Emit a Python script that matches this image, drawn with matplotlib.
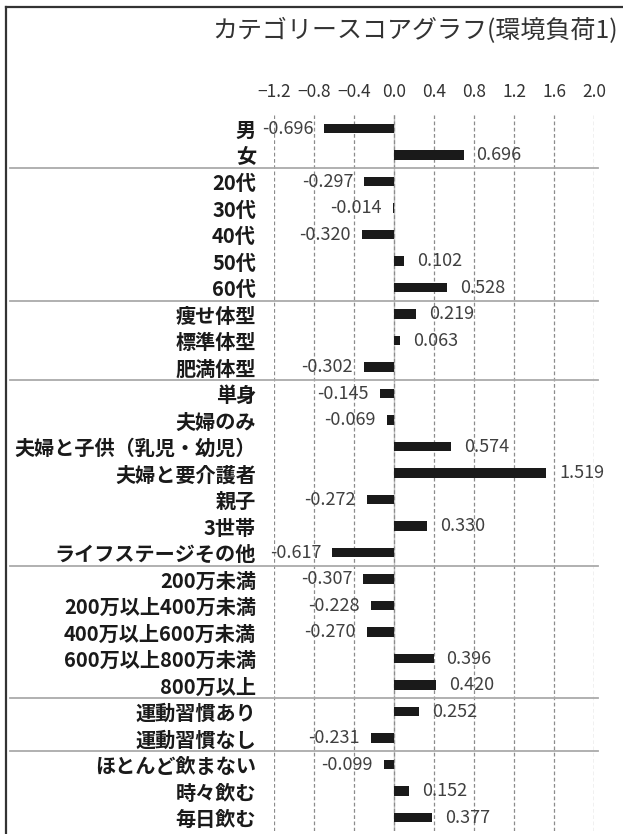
import matplotlib
matplotlib.use("Agg")
import matplotlib.pyplot as plt
import matplotlib.transforms as mtransforms
from matplotlib.lines import Line2D

plt.rcParams['font.family'] = ['Noto Sans CJK JP', 'DejaVu Sans']
plt.rcParams['axes.unicode_minus'] = True

# データ
categories = [
    "男", "女",
    "20代", "30代", "40代", "50代", "60代",
    "痩せ体型", "標準体型", "肥満体型",
    "単身", "夫婦のみ", "夫婦と子供（乳児・幼児）", "夫婦と要介護者", "親子", "3世帯", "ライフステージその他",
    "200万未満", "200万以上400万未満", "400万以上600万未満", "600万以上800万未満", "800万以上",
    "運動習慣あり", "運動習慣なし",
    "ほとんど飲まない", "時々飲む", "毎日飲む",
]
scores = [
    -0.696, 0.696,
    -0.297, -0.014, -0.320, 0.102, 0.528,
    0.219, 0.063, -0.302,
    -0.145, -0.069, 0.574, 1.519, -0.272, 0.330, -0.617,
    -0.307, -0.228, -0.270, 0.396, 0.420,
    0.252, -0.231,
    -0.099, 0.152, 0.377,
]
group_sizes = [2, 5, 3, 7, 5, 2, 3]
x_ticks = [-1.2, -0.8, -0.4, 0.0, 0.4, 0.8, 1.2, 1.6, 2.0]

W, H = 623, 834
fig = plt.figure(figsize=(W / 100, H / 100), dpi=100)
fig.patch.set_facecolor("white")

# 外枠（上と左）
fig.add_artist(Line2D([6 / W, 6 / W], [0, 1 - 7 / H], transform=fig.transFigure,
                      color="#333333", lw=1.6))
fig.add_artist(Line2D([6 / W, 1], [1 - 7 / H, 1 - 7 / H], transform=fig.transFigure,
                      color="#333333", lw=1.6))

# タイトル
fig.text(618 / W, 1 - 31 / H, "カテゴリースコアグラフ(環境負荷1)",
         ha="right", va="center", fontsize=18, color="#333333")

top_px, bot_px = 115.25, 830.75
ax = fig.add_axes([274 / W, 1 - bot_px / H, 320 / W, (bot_px - top_px) / H])
n = len(categories)
ypos = list(range(n))

ax.barh(ypos, scores, height=0.34, color="#1a1a1a", zorder=3)
ax.set_xlim(-1.2, 2.0)
ax.set_ylim(n - 0.5, -0.5)

ax.set_xticks(x_ticks)
ax.set_xticklabels([f"{t:.1f}".replace("-", "\u2212") for t in x_ticks],
                   fontsize=12.5, color="#333333")
ax.xaxis.tick_top()
ax.tick_params(axis="x", length=0, pad=10)

ax.set_yticks(ypos)
ax.set_yticklabels(categories, fontsize=14.5, fontweight="bold", color="#1a1a1a")
ax.tick_params(axis="y", length=0, pad=13)

for s in ax.spines.values():
    s.set_visible(False)
ax.grid(axis="x", linestyle=(0, (3, 2)), color="#8c8c8c", lw=0.9, zorder=0)
ax.axvline(0, color="#c4c4c4", lw=1.0, zorder=1)

# 値ラベル
for y, v in zip(ypos, scores):
    if v < 0:
        ax.annotate(f"{v:.3f}", (v, y), xytext=(-11, 0), textcoords="offset pixels",
                    ha="right", va="center", fontsize=13, color="#404040", zorder=4)
    else:
        ax.annotate(f"{v:.3f}", (v, y), xytext=(13, 0), textcoords="offset pixels",
                    ha="left", va="center", fontsize=13, color="#404040", zorder=4)

# グループ区切り線
trans = mtransforms.blended_transform_factory(fig.transFigure, ax.transData)
edge = -0.5
for g in group_sizes[:-1]:
    edge += g
    ax.add_line(Line2D([10 / W, 598 / W], [edge, edge], transform=trans,
                       color="#aaaaaa", lw=1.3, clip_on=False, zorder=2))

fig.savefig("out.png", dpi=100, facecolor="white")
